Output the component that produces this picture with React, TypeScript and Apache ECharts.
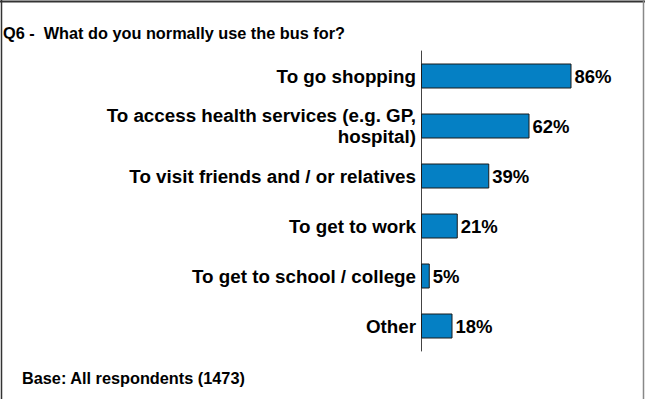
import React, { useEffect, useRef } from "react";
import * as echarts from "echarts";

const categories = [
  "To go shopping",
  "To access health services (e.g. GP,\nhospital)",
  "To visit friends and / or relatives",
  "To get to work",
  "To get to school / college",
  "Other",
];
const values = [86, 62, 39, 21, 5, 18];
const titleText = "Q6 -  What do you normally use the bus for?";
const baseText = "Base: All respondents (1473)";

const FONT = "Arial, 'Liberation Sans', sans-serif";

export default function App() {
  const ref = useRef<HTMLDivElement>(null);
  useEffect(() => {
    if (!ref.current) return;
    const chart = echarts.init(ref.current, undefined, { renderer: "svg" });
    chart.setOption({
      animation: false,
      backgroundColor: "#ffffff",
      grid: { left: 421, top: 51, width: 175, height: 300, containLabel: false },
      xAxis: {
        type: "value",
        min: 0,
        max: 100,
        show: false,
      },
      yAxis: {
        type: "category",
        inverse: true,
        data: categories,
        axisLine: { show: true, lineStyle: { color: "#444", width: 1 } },
        axisTick: { show: false },
        axisLabel: {
          fontFamily: FONT,
          fontWeight: "bold",
          fontSize: 18.8,
          color: "#000",
          margin: 5,
          align: "right",
          lineHeight: 21,
        },
      },
      series: [
        {
          type: "bar",
          data: values,
          barWidth: 25,
          itemStyle: { color: "#0580c4", borderColor: "#1a1a1a", borderWidth: 1 },
          label: {
            show: true,
            position: "right",
            distance: 3,
            formatter: "{c}%",
            fontFamily: FONT,
            fontWeight: "bold",
            fontSize: 18.5,
            color: "#000",
          },
        },
      ],
      graphic: [
        {
          type: "text",
          x: 3,
          y: 32.5,
          style: {
            text: titleText,
            fontFamily: FONT,
            fontWeight: "bold",
            fontSize: 16.3,
            fill: "#000",
            verticalAlign: "middle",
          },
        },
        {
          type: "text",
          x: 22,
          y: 378,
          style: {
            text: baseText,
            fontFamily: FONT,
            fontWeight: "bold",
            fontSize: 16.3,
            fill: "#000",
            verticalAlign: "middle",
          },
        },
        { type: "line", shape: { x1: 0, y1: 1.5, x2: 645, y2: 1.5 }, style: { stroke: "#333", lineWidth: 2 } },
        { type: "line", shape: { x1: 1.5, y1: 0, x2: 1.5, y2: 399 }, style: { stroke: "#333", lineWidth: 1.5 } },
        { type: "line", shape: { x1: 643.5, y1: 0, x2: 643.5, y2: 399 }, style: { stroke: "#888", lineWidth: 1.5 } },
      ],
    });
    return () => chart.dispose();
  }, []);
  return (
    <div
      ref={ref}
      style={{ position: "absolute", left: 0, top: 0, width: 645, height: 399 }}
    />
  );
}
